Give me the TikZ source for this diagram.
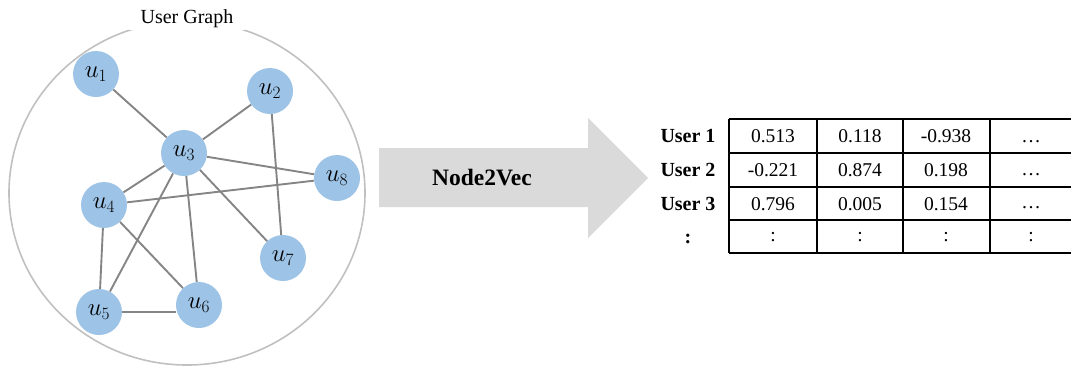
\documentclass[tikz,border=0pt]{standalone}
\usepackage{fontspec}
\setmainfont{Liberation Serif}
\begin{document}
\begin{tikzpicture}[x=1pt,y=-1pt,
  unode/.style={circle,fill=nodeblue,minimum size=46pt,inner sep=0pt,font=\fontsize{26}{28}\selectfont},
  gedge/.style={draw=edgegray,line width=1.9pt},
  cell/.style={font=\fontsize{19.5}{21}\selectfont,inner sep=0pt},
  rowlab/.style={font=\fontsize{20}{22}\selectfont\bfseries,inner sep=0pt},
  hline/.style={line width=1.3pt,black},
  vline/.style={line width=1.8pt,black}]
\definecolor{nodeblue}{HTML}{9DC3E6}
\definecolor{edgegray}{HTML}{858585}
\definecolor{circgray}{HTML}{C0C0C0}
\definecolor{arrowgray}{HTML}{DADADA}
\useasboundingbox (0,0) rectangle (1071,365);
% big circle
\draw[circgray,line width=1.6pt] (187,193) ellipse [x radius=178, y radius=172];
\node[fill=white,inner xsep=12pt,inner ysep=2pt,font=\fontsize{20}{22}\selectfont] (title) at (187,19) {User Graph};
% nodes
\node[unode] (u1) at (96,74) {$u_1$};
\node[unode] (u2) at (270,91) {$u_2$};
\node[unode] (u3) at (184,153) {$u_3$};
\node[unode] (u8) at (337,178) {$u_8$};
\node[unode] (u4) at (104,205) {$u_4$};
\node[unode] (u7) at (283,258) {$u_7$};
\node[unode] (u5) at (99,312) {$u_5$};
\node[unode] (u6) at (199,305) {$u_6$};
\coordinate (u6l) at (176,312);
% edges
\path[gedge] (u1) -- (u3);
\path[gedge] (u2) -- (u3);
\path[gedge] (u2) -- (u7);
\path[gedge] (u3) -- (u8);
\path[gedge] (u3) -- (u4);
\path[gedge] (u3) -- (u5);
\path[gedge] (u3) -- (u6);
\path[gedge] (u3) -- (u7);
\path[gedge] (u4) -- (u8);
\path[gedge] (u4) -- (u5);
\path[gedge] (u4) -- (u6);
\path[gedge] (u5) -- (u6l);
% arrow
\fill[arrowgray] (379,148) -- (588,148) -- (588,118) -- (648,178) -- (588,238) -- (588,207) -- (379,207) -- cycle;
\node[font=\fontsize{23.5}{25}\selectfont\bfseries] (n2v) at (482,178) {Node2Vec};
% table lines
\foreach \yy in {119,153,187,220} \draw[hline] (729,\yy) -- (1071,\yy);
\draw[line width=2.4pt] (729,253) -- (1071,253);
\foreach \xx in {729,817,903,990} \draw[vline] (\xx,119) -- (\xx,253);
% row labels
\node[rowlab] (r1) at (688,136) {User 1};
\node[rowlab] (r2) at (688,170) {User 2};
\node[rowlab] (r3) at (688,204) {User 3};
\node[rowlab] (r4) at (688,239) {:};
% cells
\node[cell] (c11) at (773,136) {0.513};
\node[cell] (c12) at (860,136) {0.118};
\node[cell] (c13) at (946,136) {-0.938};
\node[cell] (c14) at (1031,142) {…};
\node[cell] (c21) at (773,170) {-0.221};
\node[cell] (c22) at (860,170) {0.874};
\node[cell] (c23) at (946,170) {0.198};
\node[cell] (c24) at (1031,175) {…};
\node[cell] (c31) at (773,204) {0.796};
\node[cell] (c32) at (860,204) {0.005};
\node[cell] (c33) at (946,204) {0.154};
\node[cell] (c34) at (1031,208) {…};
\node[cell] (c41) at (773,237) {:};
\node[cell] (c42) at (860,237) {:};
\node[cell] (c43) at (946,237) {:};
\node[cell] (c44) at (1031,237) {:};
\end{tikzpicture}
\end{document}
